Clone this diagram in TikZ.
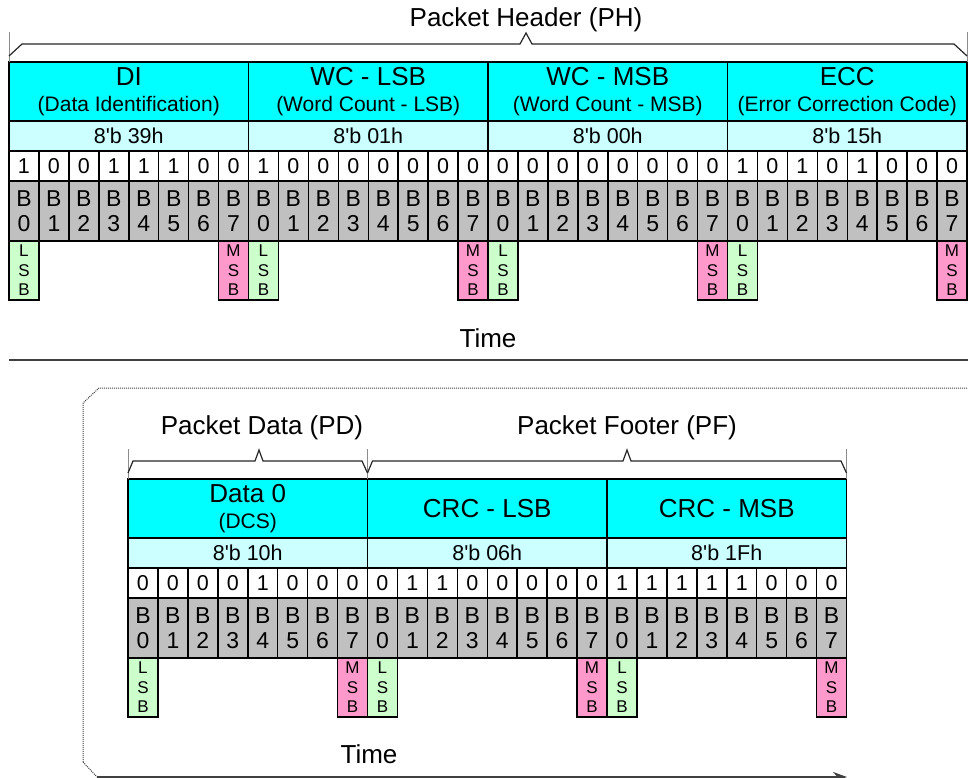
\documentclass[tikz,border=0pt]{standalone}
\usepackage{fontspec}
\setmainfont{Liberation Sans}[Ligatures=TeXOff]
\usetikzlibrary{arrows.meta, positioning}
\definecolor{cyanField}{RGB}{0,255,255}
\definecolor{cyanValue}{RGB}{204,255,255}
\definecolor{grayBit}{RGB}{192,192,192}
\definecolor{greenLsb}{RGB}{204,255,204}
\definecolor{pinkMsb}{RGB}{255,153,204}
\definecolor{grayLine}{RGB}{64,64,64}
\definecolor{grayTick}{RGB}{140,140,140}
\newcommand{\subtext}{\fontsize{21}{26}\selectfont}

\begin{document}
\begin{tikzpicture}[x=1pt, y=-1pt,
    fieldbox/.style={draw, fill=cyanField, line width=1.5pt, minimum width=239.5pt, minimum height=59pt, inner sep=0pt, outer sep=0pt, align=center, font=\fontsize{26}{26}\selectfont},
    valuebox/.style={draw, fill=cyanValue, line width=1.5pt, minimum width=239.5pt, minimum height=30pt, inner sep=0pt, outer sep=0pt, font=\fontsize{21.5}{22}\selectfont},
    bitbox/.style={draw, fill=white, line width=1.5pt, minimum width=29.94pt, minimum height=30pt, inner sep=0pt, outer sep=0pt, font=\fontsize{21.5}{22}\selectfont},
    bnumbox/.style={draw, fill=grayBit, line width=1.5pt, minimum width=29.94pt, minimum height=60pt, inner sep=0pt, outer sep=0pt, align=center, font=\fontsize{23}{25}\selectfont},
    lsbbox/.style={draw, fill=greenLsb, line width=1.2pt, minimum width=29.94pt, minimum height=59pt, inner sep=0pt, outer sep=0pt, align=center, font=\fontsize{17}{19.5}\selectfont},
    msbbox/.style={lsbbox, fill=pinkMsb},
    partlabel/.style={inner sep=0pt, font=\fontsize{26}{26}\selectfont},
    bracket/.style={line width=1.2pt, draw=black!85},
    edgetick/.style={line width=1pt, draw=grayTick},
    framedots/.style={line width=1pt, draw=grayLine, dash pattern=on 1pt off 1pt},
    timearrow/.style={line width=2pt, draw=grayLine, -{Stealth[length=14pt, width=10pt]}}
]
    \useasboundingbox (0,0) rectangle (968,778);

    % packet header
    \foreach \fid/\ftext/\fval/\fbits [count=\i from 0] in {
        di/{DI\\{\subtext(Data Identification)}}/39h/{1,0,0,1,1,1,0,0},
        wcl/{WC - LSB\\{\subtext(Word Count - LSB)}}/01h/{1,0,0,0,0,0,0,0},
        wcm/{WC - MSB\\{\subtext(Word Count - MSB)}}/00h/{0,0,0,0,0,0,0,0},
        ecc/{ECC\\{\subtext(Error Correction Code)}}/15h/{1,0,1,0,1,0,0,0}}
    {
        \node[fieldbox, anchor=north west] (ph-\fid) at ({9+239.5*\i}, 62) {\ftext};
        \node[valuebox, below=0pt of ph-\fid] (ph-\fid-val) {8'b \fval};
        \foreach \b [count=\j from 0] in \fbits {
            \node[bitbox, anchor=north west] (ph-\fid-b\j) at ({9+239.5*\i+29.94*\j}, 151) {\b};
            \node[bnumbox, below=0pt of ph-\fid-b\j] (ph-\fid-n\j) {B\\\j};
        }
        \node[lsbbox, below=0pt of ph-\fid-n0] (ph-\fid-lsb) {L\\S\\B};
        \node[msbbox, below=0pt of ph-\fid-n7] (ph-\fid-msb) {M\\S\\B};
    }

    \node[partlabel] (ph-label) at (526,20) {Packet Header (PH)};
    \draw[edgetick] (ph-di.north west) -- ++(0,-30);
    \draw[edgetick] (ph-ecc.north east) -- ++(0,-30);
    \draw[bracket] ([yshift=6pt]ph-di.north west) -- ++(13,-12) -- (520,44) -- ++(6,-11) -- ++(6,11) -- (954,44) -- ([yshift=6pt]ph-ecc.north east);

    \node[partlabel] (ph-time) at (488,338) {Time};
    \draw[line width=2pt, draw=grayLine] (9,360) -- (968,360);

    % packet data + footer
    \draw[framedots] (83,762) -- (83,403) -- (99,388) -- (967,388);
    \draw[framedots] (83,762) -- (97,777);

    \foreach \fid/\ftext/\fval/\fbits [count=\i from 0] in {
        data/{Data 0\\{\subtext(DCS)}}/10h/{0,0,0,0,1,0,0,0},
        crcl/{CRC - LSB}/06h/{0,1,1,0,0,0,0,0},
        crcm/{CRC - MSB}/1Fh/{1,1,1,1,1,0,0,0}}
    {
        \node[fieldbox, anchor=north west] (pd-\fid) at ({128+239.5*\i}, 479) {\ftext};
        \node[valuebox, below=0pt of pd-\fid] (pd-\fid-val) {8'b \fval};
        \foreach \b [count=\j from 0] in \fbits {
            \node[bitbox, anchor=north west] (pd-\fid-b\j) at ({128+239.5*\i+29.94*\j}, 568) {\b};
            \node[bnumbox, below=0pt of pd-\fid-b\j] (pd-\fid-n\j) {B\\\j};
        }
        \node[lsbbox, below=0pt of pd-\fid-n0] (pd-\fid-lsb) {L\\S\\B};
        \node[msbbox, below=0pt of pd-\fid-n7] (pd-\fid-msb) {M\\S\\B};
    }

    \node[partlabel] (pd-label) at (262,428) {Packet Data (PD)};
    \node[partlabel] (pf-label) at (627,428) {Packet Footer (PF)};
    \draw[edgetick] (pd-data.north west) -- ++(0,-30);
    \draw[edgetick] (pd-crcl.north west) -- ++(0,-30);
    \draw[edgetick] (pd-crcm.north east) -- ++(0,-30);
    \draw[bracket] ([yshift=6pt]pd-data.north west) -- ++(5,-12) -- (255,461) -- ++(4,-11) -- ++(4,11) -- (362,461) -- ([yshift=6pt]pd-data.north east);
    \draw[bracket] ([yshift=6pt]pd-crcl.north west) -- ++(5,-12) -- (623,461) -- ++(4,-11) -- ++(4,11) -- (841,461) -- ([yshift=6pt]pd-crcm.north east);

    \node[partlabel] (pd-time) at (369,754) {Time};
    \coordinate (time-start) at (97,777);
    \coordinate (time-end) at (847,777);
    \draw[timearrow] (time-start) -- (time-end);
\end{tikzpicture}
\end{document}
